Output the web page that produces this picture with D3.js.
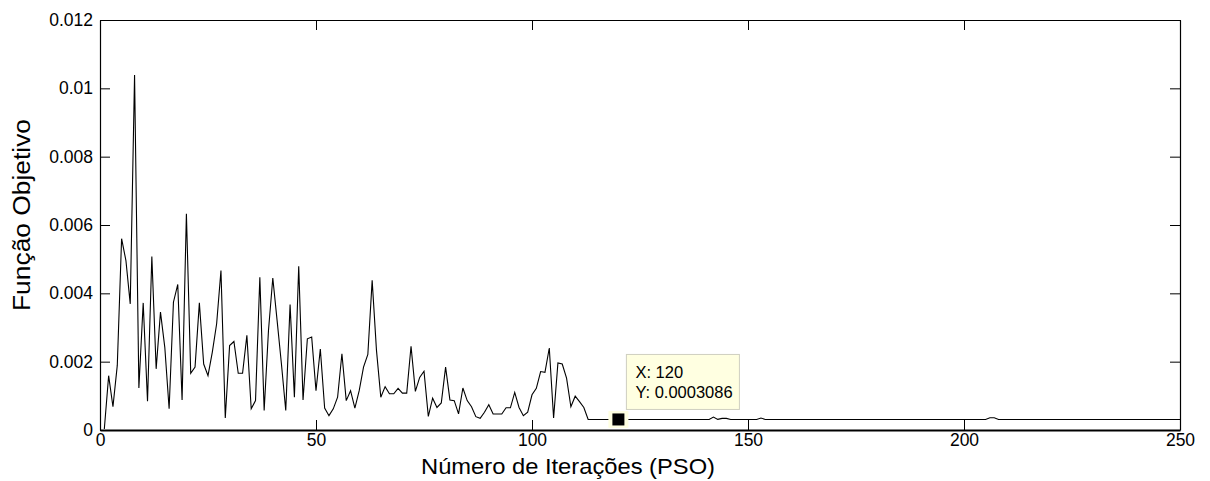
<!DOCTYPE html>
<html>
<head>
<meta charset="utf-8">
<script src="https://cdn.jsdelivr.net/npm/d3@7"></script>
<style>
  html, body { margin: 0; padding: 0; background: #fff; }
  svg { display: block; font-family: "Liberation Sans", Arial, Helvetica, sans-serif; }
</style>
</head>
<body>
<svg id="chart" width="1210" height="481"></svg>
<script>
// ---- data ----
const iterStart = 1;
const objectiveEarly = [
  0.00003, 0.00159, 0.00068, 0.00189, 0.00560, 0.00496, 0.00369, 0.01039, 0.00123, 0.00372,
  0.00084, 0.00508, 0.00179, 0.00345, 0.00242, 0.00062, 0.00374, 0.00426, 0.00088, 0.00633,
  0.00166, 0.00184, 0.00372, 0.00193, 0.00159, 0.00228, 0.00311, 0.00467, 0.00035, 0.00247,
  0.00259, 0.00166, 0.00166, 0.00277, 0.00062, 0.00086, 0.00447, 0.00057, 0.00291, 0.00445,
  0.00320, 0.00193, 0.00057, 0.00367, 0.00096, 0.00479, 0.00088, 0.00267, 0.00272, 0.00115,
  0.00237, 0.00064, 0.00042, 0.00062, 0.00096, 0.00223, 0.00086, 0.00115, 0.00064, 0.00115,
  0.00184, 0.00221, 0.00438, 0.00233, 0.00096, 0.00127, 0.00106, 0.00106, 0.00122, 0.00108,
  0.00108, 0.00245, 0.00113, 0.00154, 0.00172, 0.00040, 0.00093, 0.00066, 0.00079, 0.00184,
  0.00088, 0.00086, 0.00047, 0.00123, 0.00086, 0.00068, 0.00039, 0.00034, 0.00052, 0.00074,
  0.00047, 0.00047, 0.00047, 0.00065, 0.00065, 0.00110, 0.00066, 0.00042, 0.00052, 0.00103,
  0.00122, 0.00171, 0.00169, 0.00240, 0.00035, 0.00196, 0.00193, 0.00152, 0.00068, 0.00099,
  0.00083, 0.00066
];
const plateauValue = 0.0003086;
const plateauEnd = 250;
// small bumps on the plateau: [iteration, value]
const plateauBumps = [
  [142, 0.00038], [143, 0.00031], [144, 0.00034], [145, 0.00034],
  [153, 0.00035], [206, 0.00036], [207, 0.00036]
];
const xTicks = [0, 50, 100, 150, 200, 250];
const yTicks = [0, 0.002, 0.004, 0.006, 0.008, 0.01, 0.012];
const yTickLabels = ["0", "0.002", "0.004", "0.006", "0.008", "0.01", "0.012"];
const datatip = { x: 120, y: 0.0003086, lines: ["X: 120", "Y: 0.0003086"] };
const xTitle = "Número de Iterações (PSO)";
const yTitle = "Função Objetivo";

// ---- build series ----
const series = [];
objectiveEarly.forEach((v, i) => series.push([iterStart + i, v]));
const bumpMap = new Map(plateauBumps);
for (let t = iterStart + objectiveEarly.length; t <= plateauEnd; t++) {
  series.push([t, bumpMap.has(t) ? bumpMap.get(t) : plateauValue]);
}

// ---- layout ----
const L = 100, R = 1180, T = 20, B = 430;
const svg = d3.select("#chart");
const x = d3.scaleLinear().domain([0, 250]).range([L, R]);
const y = d3.scaleLinear().domain([0, 0.012]).range([B, T]);
const tickLen = 10;

// line
svg.append("path")
  .datum(series)
  .attr("fill", "none")
  .attr("stroke", "#000")
  .attr("stroke-width", 1.1)
  .attr("stroke-linejoin", "miter")
  .attr("d", d3.line().x(d => x(d[0])).y(d => y(d[1])));

// axes (inside ticks, box)
const fmtY = (d) => yTickLabels[yTicks.indexOf(d)];
svg.append("g").attr("transform", `translate(0,${B})`)
  .call(d3.axisBottom(x).tickValues(xTicks).tickSizeInner(-tickLen).tickSizeOuter(0).tickPadding(4).tickFormat(d3.format("d")))
  .call(g => g.select(".domain").attr("stroke-width", 2))
  .call(g => g.selectAll("text").attr("font-size", 17.5).attr("fill", "#000"));
svg.append("g").attr("transform", `translate(0,${T})`)
  .call(d3.axisTop(x).tickValues(xTicks).tickSizeInner(-tickLen).tickSizeOuter(0).tickFormat(""))
  .call(g => g.select(".domain").attr("stroke-width", 1.2));
svg.append("g").attr("transform", `translate(${L},0)`)
  .call(d3.axisLeft(y).tickValues(yTicks).tickSizeInner(-tickLen).tickSizeOuter(0).tickPadding(7).tickFormat(fmtY))
  .call(g => g.select(".domain").attr("stroke-width", 1.2))
  .call(g => g.selectAll("text").attr("font-size", 17.5).attr("fill", "#000"));
svg.append("g").attr("transform", `translate(${R},0)`)
  .call(d3.axisRight(y).tickValues(yTicks).tickSizeInner(-tickLen).tickSizeOuter(0).tickFormat(""))
  .call(g => g.select(".domain").attr("stroke-width", 1.2));

// titles
svg.append("text")
  .attr("x", 568).attr("y", 474)
  .attr("text-anchor", "middle")
  .attr("font-size", 22)
  .attr("textLength", 294).attr("lengthAdjust", "spacingAndGlyphs")
  .text(xTitle);
svg.append("text")
  .attr("transform", `translate(30,215) rotate(-90)`)
  .attr("text-anchor", "middle")
  .attr("font-size", 23)
  .attr("textLength", 192).attr("lengthAdjust", "spacingAndGlyphs")
  .text(yTitle);

// datatip marker
const mx = x(datatip.x), my = y(datatip.y);
svg.append("rect").attr("x", mx - 10).attr("y", my - 8.5).attr("width", 20).attr("height", 17).attr("fill", "#ffffe1");
svg.append("rect").attr("x", mx - 6).attr("y", my - 6).attr("width", 12).attr("height", 12).attr("fill", "#000");
// datatip box
const bx = mx + 8, by = my - 65;
svg.append("rect").attr("x", bx).attr("y", by).attr("width", 113).attr("height", 55)
  .attr("fill", "#ffffe1").attr("stroke", "#cfcfc0").attr("stroke-width", 1);
datatip.lines.forEach((s, i) => {
  svg.append("text").attr("x", bx + 9).attr("y", by + 24 + i * 20)
    .attr("font-size", 16.5).attr("fill", "#000").text(s);
});
</script>
</body>
</html>
